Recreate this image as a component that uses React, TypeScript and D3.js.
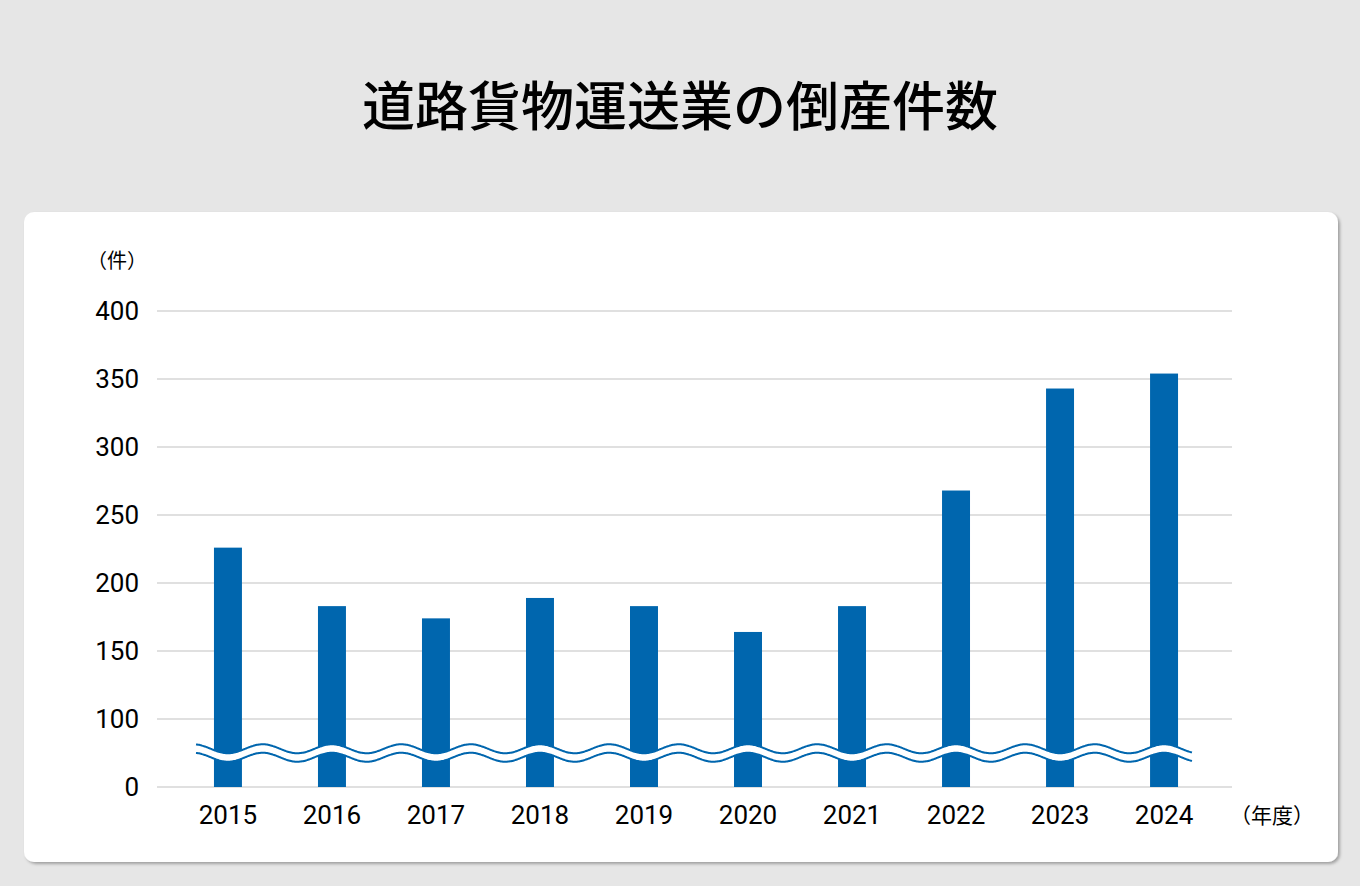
import * as d3 from 'd3';

const years = ['2015', '2016', '2017', '2018', '2019', '2020', '2021', '2022', '2023', '2024'];
const counts = [226, 183, 174, 189, 183, 164, 183, 268, 343, 354];
// axis is broken: "0" sits one grid step below 100
const tickValues = [50, 100, 150, 200, 250, 300, 350, 400];
const tickLabels = ['0', '100', '150', '200', '250', '300', '350', '400'];
const breakValue = 75;

const W = 1360;
const H = 886;
const BLUE = '#0066ae';
const JP = '"Noto Sans CJK JP", "Noto Sans", sans-serif';
const NUM = 'Roboto, "Noto Sans", sans-serif';

export default function App() {
  const x = d3.scaleBand<string>().domain(years).range([176, 1216]).paddingInner(0.731).paddingOuter(0.365);
  const y = d3.scaleLinear().domain([50, 400]).range([787, 311]);

  const step = x.step();
  const period = (2 * step) / 3;
  const firstCenter = (x(years[0]) ?? 0) + x.bandwidth() / 2;
  const amp = 4.5;
  const gap = 4.25;
  const waveX = d3.range(196, 1193, 1);
  const wave = (offset: number) =>
    d3
      .line<number>()
      .x((d) => d)
      .y((d) => y(breakValue) + offset + amp * Math.cos((2 * Math.PI * (d - firstCenter)) / period))
      .curve(d3.curveBasis)(waveX) ?? '';

  return (
    <svg width={W} height={H} style={{ position: 'absolute', left: 0, top: 0, display: 'block' }}>
      <defs>
        <filter id="shadow" x="-5%" y="-5%" width="110%" height="110%">
          <feDropShadow dx="2" dy="2" stdDeviation="1.5" floodColor="#000" floodOpacity="0.3" />
        </filter>
      </defs>
      <rect width={W} height={H} fill="#e6e6e6" />
      <text
        x={680}
        y={103}
        textAnchor="middle"
        dominantBaseline="central"
        fontFamily={JP}
        fontWeight={500}
        fontSize={53}
        fill="#000"
      >
        道路貨物運送業の倒産件数
      </text>
      <rect x={24} y={212} width={1314} height={650} rx={10} fill="#fff" filter="url(#shadow)" />

      {tickValues.map((t) => (
        <line key={t} x1={157} x2={1232} y1={y(t)} y2={y(t)} stroke="#d6d6d6" strokeWidth={1.5} />
      ))}
      {tickValues.map((t, i) => (
        <text
          key={'l' + t}
          x={139}
          y={y(t)}
          textAnchor="end"
          dominantBaseline="central"
          fontFamily={NUM}
          fontSize={26}
          fill="#000"
        >
          {tickLabels[i]}
        </text>
      ))}
      <text x={117} y={259} textAnchor="middle" dominantBaseline="central" fontFamily={JP} fontSize={20} fill="#000">
        （件）
      </text>

      {years.map((yr, i) => (
        <rect key={yr} x={x(yr)} y={y(counts[i])} width={x.bandwidth()} height={y(50) - y(counts[i])} fill={BLUE} />
      ))}

      <path d={wave(0)} fill="none" stroke="#fff" strokeWidth={8.5} />
      <path d={wave(-gap)} fill="none" stroke={BLUE} strokeWidth={2} />
      <path d={wave(gap)} fill="none" stroke={BLUE} strokeWidth={2} />

      {years.map((yr) => (
        <text
          key={'x' + yr}
          x={(x(yr) ?? 0) + x.bandwidth() / 2}
          y={815}
          textAnchor="middle"
          dominantBaseline="central"
          fontFamily={NUM}
          fontSize={26}
          fill="#000"
        >
          {yr}
        </text>
      ))}
      <text x={1272} y={814} textAnchor="middle" dominantBaseline="central" fontFamily={JP} fontSize={21} fill="#000">
        （年度）
      </text>
    </svg>
  );
}
